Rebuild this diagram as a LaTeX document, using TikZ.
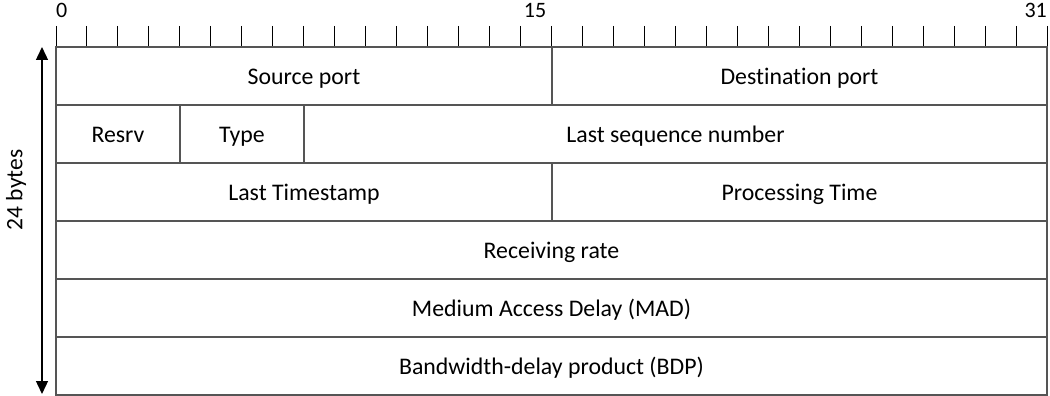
\documentclass[tikz,border=0pt]{standalone}
\usepackage{fontspec}
\setmainfont{Carlito}[Ligatures=NoCommon]
\usetikzlibrary{arrows.meta}
\definecolor{linegray}{HTML}{555555}
\tikzset{
  field/.style={draw=linegray, line width=1.6pt, minimum height=58pt, inner sep=0pt, text height=17pt, text depth=0pt, font=\fontsize{23.8}{28}\selectfont},
  tick/.style={draw=black, line width=1pt},
  bitnum/.style={inner sep=0pt, font=\fontsize{22}{26}\selectfont},
  sizearrow/.style={draw=black, line width=1.4pt, {Triangle[length=13pt,width=12pt]}-{Triangle[length=13pt,width=12pt]}}
}
\begin{document}
\begin{tikzpicture}[x=1pt,y=-1pt]
\useasboundingbox (0,0) rectangle (1050,396);
% ruler ticks
\foreach \k in {0,...,32} {
  \draw[tick] ({56+\k*30.97},26) -- ({56+\k*30.97},47);
}
\node[bitnum, anchor=base west] (b0) at (56,18) {0};
\node[bitnum, anchor=base] (b15) at (535,18) {15};
\node[bitnum, anchor=base east] (b31) at (1047,18) {31};
% fields
\node[field, minimum width=496pt] (src) at (304,76) {Source port};
\node[field, minimum width=495pt] (dst) at (799.5,76) {Destination port};
\node[field, minimum width=124pt] (resrv) at (118,134) {Resrv};
\node[field, minimum width=124pt] (type) at (242,134) {Type};
\node[field, minimum width=743pt] (seq) at (675.5,134) {Last sequence number};
\node[field, minimum width=496pt] (ts) at (304,192) {Last Timestamp};
\node[field, minimum width=495pt] (proc) at (799.5,192) {Processing Time};
\node[field, minimum width=991pt] (rate) at (551.5,250) {Receiving rate};
\node[field, minimum width=991pt] (mad) at (551.5,308) {Medium Access Delay (MAD)};
\node[field, minimum width=991pt] (bdp) at (551.5,366) {Bandwidth-delay product (BDP)};
% size arrow
\coordinate (atop) at (42,47);
\coordinate (abot) at (42,394);
\draw[sizearrow] (atop) -- (abot);
\node[rotate=90, inner sep=0pt, font=\fontsize{23.5}{28}\selectfont] (size) at (16,190) {24 bytes};
\end{tikzpicture}
\end{document}
